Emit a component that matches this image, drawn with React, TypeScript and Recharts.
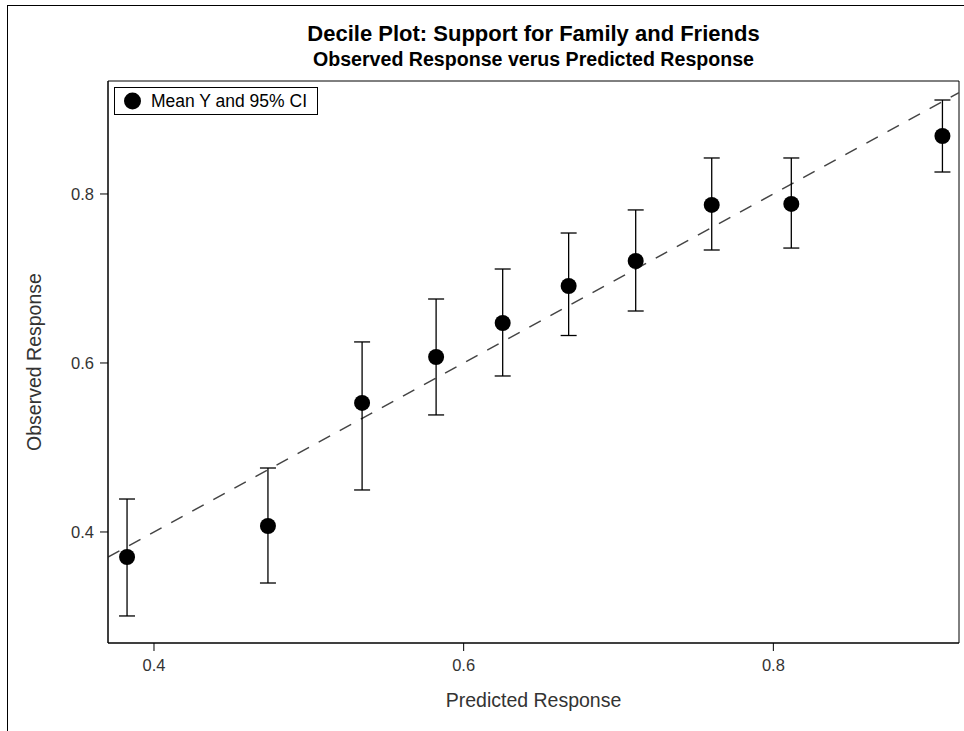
import {
  ComposedChart,
  Scatter,
  ErrorBar,
  XAxis,
  YAxis,
  ReferenceLine,
  ReferenceArea,
} from 'recharts'

// decile means
const predicted = [0.3826, 0.4736, 0.5344, 0.5822, 0.6252, 0.6678, 0.7111, 0.7602, 0.8116, 0.9092]
const observed = [0.3704, 0.4071, 0.5527, 0.6071, 0.6473, 0.6911, 0.7207, 0.787, 0.7882, 0.8686]
const ciLow = [0.3006, 0.3396, 0.4497, 0.5385, 0.5846, 0.6325, 0.6615, 0.7337, 0.736, 0.826]
const ciHigh = [0.439, 0.4757, 0.6249, 0.6757, 0.7112, 0.7538, 0.7811, 0.8426, 0.8426, 0.9112]
const ticks = [0.4, 0.6, 0.8]

const xDomain = [0.3703, 0.9199]
const yDomain = [0.2686, 0.9337]

const data = predicted.map((x, i) => ({
  x,
  y: observed[i],
  ci: [observed[i] - ciLow[i], ciHigh[i] - observed[i]],
}))

const font = '"Liberation Sans", Arial, sans-serif'
const textColor = '#333'

export default function App() {
  return (
    <div style={{ position: 'absolute', left: 0, top: 0, width: 964, height: 731, background: '#fff', fontFamily: font, overflow: 'hidden' }}>
      <div style={{ position: 'absolute', left: 7, top: 5, width: 1000, height: 800, borderLeft: '1px solid #000', borderTop: '1px solid #000' }} />

      <div style={{ position: 'absolute', left: 108, width: 851, top: 23, lineHeight: '22px', textAlign: 'center', fontWeight: 'bold', fontSize: 22, color: '#000', whiteSpace: 'nowrap' }}>
        Decile Plot: Support for Family and Friends
      </div>
      <div style={{ position: 'absolute', left: 108, width: 851, top: 50, lineHeight: '19.6px', textAlign: 'center', fontWeight: 'bold', fontSize: 19.6, color: '#000', whiteSpace: 'nowrap' }}>
        Observed Response verus Predicted Response
      </div>

      <ComposedChart
        width={964}
        height={731}
        data={data}
        margin={{ top: 81, right: 5, bottom: 48, left: 48 }}
      >
        <XAxis
          type="number"
          dataKey="x"
          domain={xDomain}
          ticks={ticks}
          allowDataOverflow
          height={40}
          stroke="#000"
          tickSize={8}
          tickMargin={8}
          tick={{ fill: textColor, fontSize: 16.5, fontFamily: font }}
          tickFormatter={(v) => v.toFixed(1)}
        />
        <YAxis
          type="number"
          dataKey="y"
          domain={yDomain}
          ticks={ticks}
          allowDataOverflow
          width={60}
          stroke="#000"
          tickSize={8}
          tickMargin={6}
          tick={{ fill: textColor, fontSize: 16.5, fontFamily: font }}
          tickFormatter={(v) => v.toFixed(1)}
        />
        <ReferenceArea x1={xDomain[0]} x2={xDomain[1]} y1={yDomain[0]} y2={yDomain[1]} fill="none" stroke="#000" strokeWidth={1} />
        <ReferenceLine
          segment={[{ x: xDomain[0], y: xDomain[0] }, { x: xDomain[1], y: xDomain[1] }]}
          stroke="#444"
          strokeWidth={1.5}
          strokeDasharray="13 11"
          ifOverflow="hidden"
        />
        <Scatter dataKey="y" fill="#000" isAnimationActive={false} shape={(p: any) => <circle cx={p.cx} cy={p.cy} r={8} fill="#000" />}>
          <ErrorBar dataKey="ci" direction="y" width={8} stroke="#000" strokeWidth={1.3} isAnimationActive={false} />
        </Scatter>
      </ComposedChart>

      <div
        style={{
          position: 'absolute',
          left: 114,
          top: 87,
          width: 202,
          height: 26,
          border: '1px solid #000',
          background: '#fff',
          display: 'flex',
          alignItems: 'center',
          fontSize: 17.5,
          color: '#000',
          whiteSpace: 'nowrap',
        }}
      >
        <svg width={36} height={26} style={{ flex: 'none' }}>
          <circle cx={17.5} cy={13} r={8.5} fill="#000" />
        </svg>
        <span>Mean Y and 95% CI</span>
      </div>

      <div style={{ position: 'absolute', left: 108, width: 851, top: 690.5, lineHeight: '19.5px', textAlign: 'center', fontSize: 19.5, color: textColor, whiteSpace: 'nowrap' }}>
        Predicted Response
      </div>
      <div
        style={{
          position: 'absolute',
          left: 35,
          top: 362,
          transform: 'translate(-50%, -50%) rotate(-90deg)',
          fontSize: 19.5,
          lineHeight: '19.5px',
          color: textColor,
          whiteSpace: 'nowrap',
        }}
      >
        Observed Response
      </div>
    </div>
  )
}
